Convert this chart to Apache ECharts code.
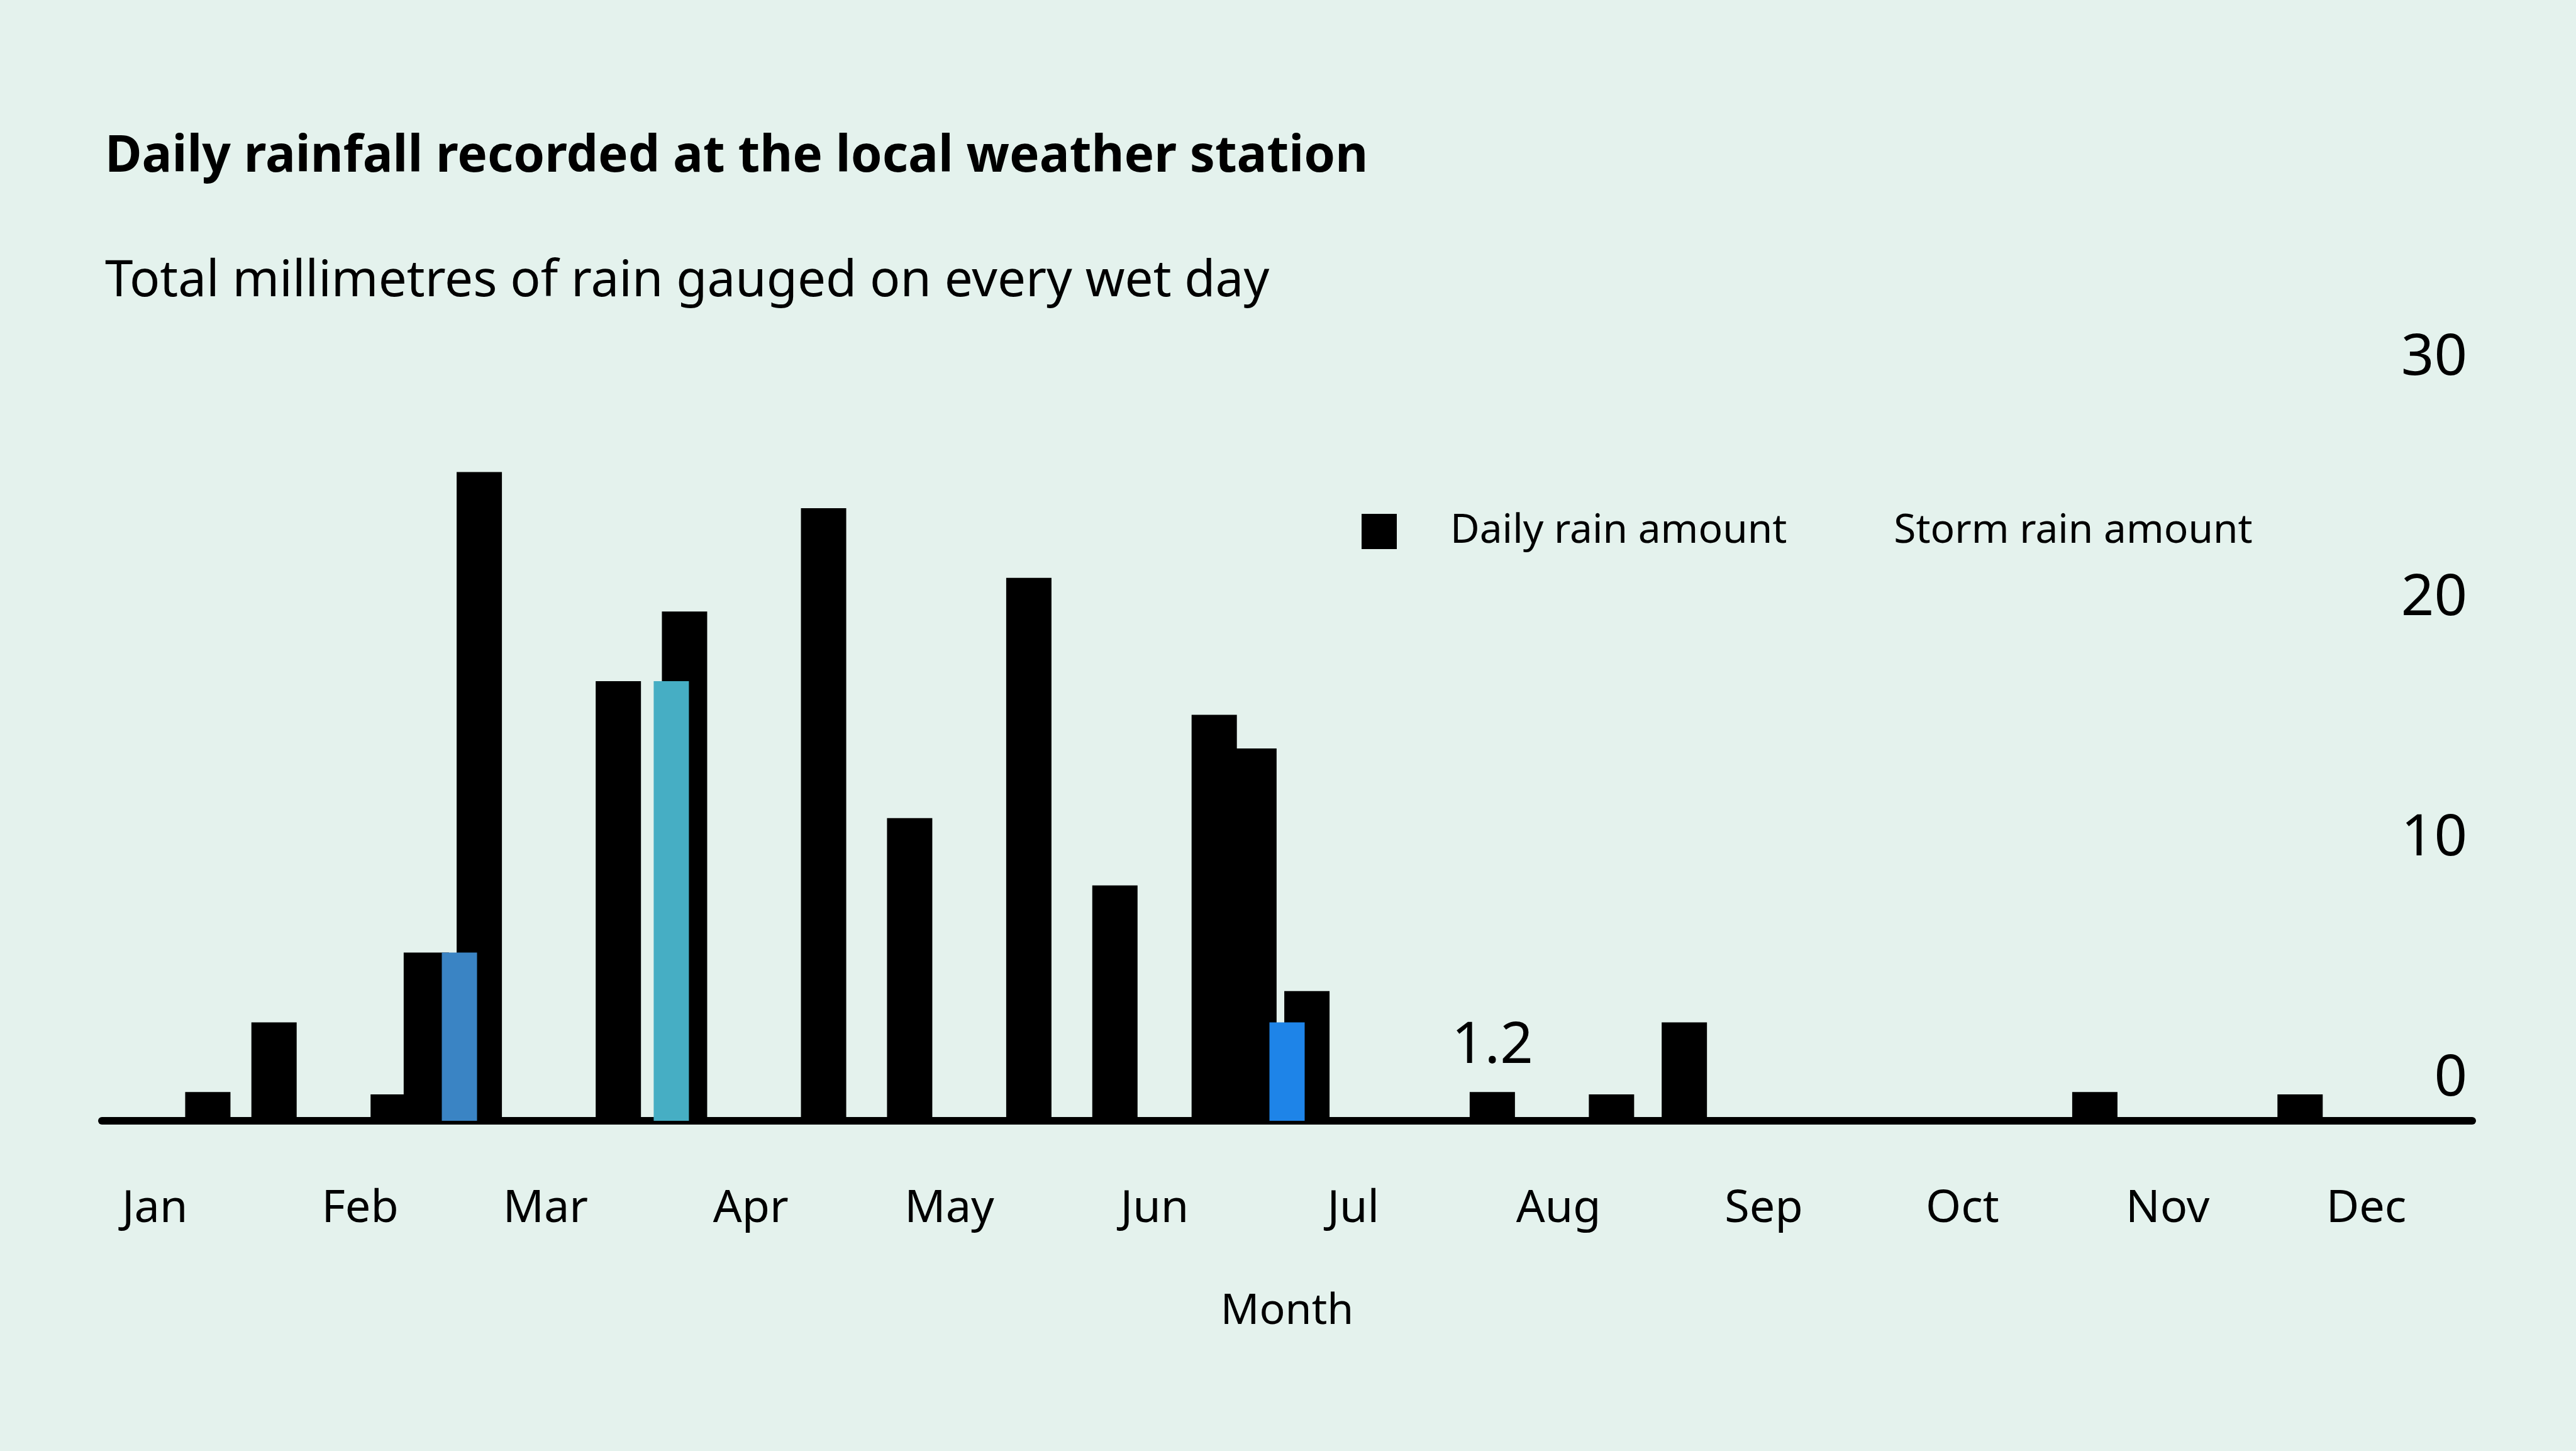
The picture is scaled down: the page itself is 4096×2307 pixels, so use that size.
<!DOCTYPE html>
<html>
<head>
<meta charset="utf-8">
<script src="https://cdn.jsdelivr.net/npm/echarts@6/dist/echarts.min.js"></script>
<style>
  html, body { margin: 0; padding: 0; background: #e4f2ed; }
  #chart { width: 4096px; height: 2307px; }
</style>
</head>
<body>
<div id="chart"></div>
<script>
// ---------- data ----------
const monthNames = ['Jan','Feb','Mar','Apr','May','Jun','Jul','Aug','Sep','Oct','Nov','Dec'];
const monthStartDays = [0,31,59,90,120,151,181,212,243,273,304,334];

// day of year (0 = 1 Jan) and rainfall in mm
const rainDays = [8, 18, 36, 41, 49, 70, 80, 101, 114, 132, 145, 160, 166, 174, 202, 220, 231, 293, 324];
const rainMm   = [1.2, 4.1, 1.1, 7.0, 27.0, 18.3, 21.2, 25.5, 12.6, 22.6, 9.8, 16.9, 15.5, 5.4, 1.2, 1.1, 4.1, 1.2, 1.1];

const stormDays = [46, 78, 171];
const stormMm   = [7.0, 18.3, 4.1];

const annotatedDay = 202;

const dayMin = -8, dayMax = 350;
const mmMin = 0, mmMax = 30, mmStep = 10;

// ---------- styling ----------
const INK = '#000000';
const BG = '#e4f2ed';
const stormColors = ['#3a84c4', '#46aec4', '#1e84e8'];
const FONT = 'Noto Sans';

const chart = echarts.init(document.getElementById('chart'), null, { renderer: 'canvas' });

const rainData = rainDays.map((d, i) => {
  const item = { value: [d, rainMm[i]] };
  if (d === annotatedDay) {
    item.label = {
      show: true, position: 'top', distance: 26,
      color: INK, fontSize: 92, fontFamily: FONT,
      formatter: p => p.value[1].toFixed(1)
    };
  }
  return item;
});

const stormData = stormDays.map((d, i) => ({
  value: [d, stormMm[i]],
  itemStyle: { color: stormColors[i] }
}));

const xAxisBase = {
  type: 'value',
  min: dayMin,
  max: dayMax,
  splitLine: { show: false },
  axisTick: { show: false }
};

const option = {
  backgroundColor: BG,
  animation: false,
  textStyle: { fontFamily: FONT, color: INK },
  title: {
    left: 162,
    top: 205,
    text: 'Daily rainfall recorded at the local weather station',
    subtext: 'Total millimetres of rain gauged on every wet day',
    itemGap: 118,
    textStyle: { fontFamily: FONT, fontSize: 80, fontWeight: 'bold', color: INK },
    subtextStyle: { fontFamily: FONT, fontSize: 80, color: INK }
  },
  legend: {
    left: 2160,
    top: 808,
    itemWidth: 56,
    itemHeight: 56,
    itemGap: 29,
    textStyle: { fontFamily: FONT, fontSize: 64, color: INK, padding: [0, 0, 0, 80] },
    data: [
      { name: 'Daily rain amount', icon: 'rect' },
      { name: 'Storm rain amount', icon: 'none' }
    ]
  },
  grid: { left: 162, right: 165, top: 636, bottom: 525, containLabel: false },
  xAxis: [
    Object.assign({}, xAxisBase, {
      name: 'Month',
      nameLocation: 'middle',
      nameGap: 270,
      nameTextStyle: { fontFamily: FONT, fontSize: 68, color: INK },
      axisLine: { show: true, onZero: false, lineStyle: { color: INK, width: 12 } },
      axisLabel: {
        show: true,
        customValues: monthStartDays,
        margin: 104,
        fontFamily: FONT,
        fontSize: 72,
        color: INK,
        formatter: v => {
          const i = monthStartDays.indexOf(v);
          return i >= 0 ? monthNames[i] : '';
        }
      }
    }),
    Object.assign({}, xAxisBase, {
      show: false,
      axisLine: { show: false },
      axisLabel: { show: false }
    })
  ],
  yAxis: {
    type: 'value',
    position: 'right',
    min: mmMin,
    max: mmMax,
    interval: mmStep,
    axisLine: { show: false },
    axisTick: { show: false },
    splitLine: { show: false },
    axisLabel: {
      inside: true,
      margin: 8,
      fontFamily: FONT,
      fontSize: 92,
      color: INK,
      verticalAlign: 'bottom',
      padding: [0, 0, 20, 0]
    }
  },
  series: [
    {
      name: 'Daily rain amount',
      type: 'bar',
      xAxisIndex: 0,
      barWidth: 72,
      itemStyle: { color: INK },
      data: rainData,
      z: 2
    },
    {
      name: 'Storm rain amount',
      type: 'bar',
      xAxisIndex: 1,
      barWidth: 56,
      itemStyle: { color: stormColors[0] },
      data: stormData,
      z: 3
    }
  ]
};

chart.setOption(option);
</script>
</body>
</html>
